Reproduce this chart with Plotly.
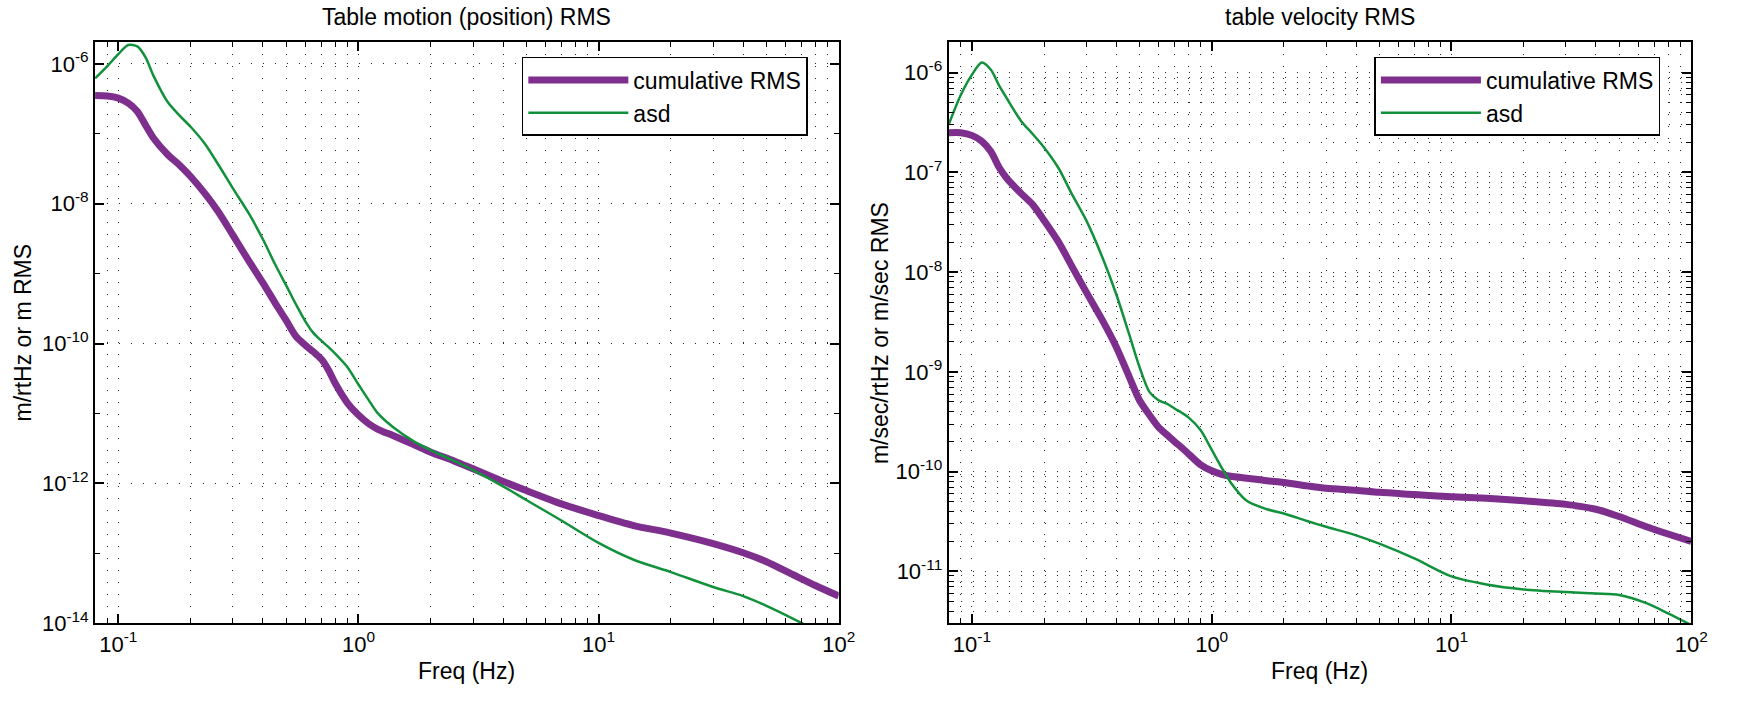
import plotly.graph_objects as go

# ---------------- data ----------------
freq = [0.08, 0.09, 0.1, 0.11, 0.12, 0.13, 0.14, 0.16, 0.18, 0.2, 0.23, 0.26, 0.3, 0.35,
        0.4, 0.45, 0.5, 0.55, 0.6, 0.65, 0.7, 0.75, 0.8, 0.9, 1.0, 1.1, 1.2, 1.4, 1.7, 2,
        2.5, 3, 4, 5, 7, 10, 14, 20, 30, 40, 50, 65, 80, 100]

pos_cum_rms = [3.52e-7, 3.47e-7, 3.24e-7, 2.75e-7, 2.09e-7, 1.32e-7, 8.7e-8, 5.1e-8, 3.55e-8,
               2.45e-8, 1.38e-8, 7.8e-9, 3.55e-9, 1.51e-9, 7.4e-10, 3.8e-10, 2.14e-10, 1.26e-10,
               9.5e-11, 7.6e-11, 6.0e-11, 4.2e-11, 2.7e-11, 1.41e-11, 9.5e-12, 7.2e-12, 6.0e-12,
               4.8e-12, 3.6e-12, 2.8e-12, 2.1e-12, 1.62e-12, 1.07e-12, 7.9e-13, 5.1e-13, 3.47e-13,
               2.5e-13, 1.95e-13, 1.38e-13, 1.02e-13, 7.6e-14, 4.9e-14, 3.47e-14, 2.45e-14]

pos_asd = [6.2e-7, 9.3e-7, 1.38e-6, 1.86e-6, 1.78e-6, 1.23e-6, 6.8e-7, 2.9e-7, 1.82e-7,
           1.26e-7, 7.1e-8, 3.7e-8, 1.66e-8, 7.2e-9, 3.1e-9, 1.35e-9, 6.8e-10, 3.6e-10,
           2.1e-10, 1.41e-10, 1.1e-10, 8.9e-11, 7.2e-11, 4.6e-11, 2.6e-11, 1.58e-11, 1.02e-11,
           6.3e-12, 4.0e-12, 3.0e-12, 2.1e-12, 1.55e-12, 9.1e-13, 5.8e-13, 2.95e-13, 1.41e-13,
           8.1e-14, 5.4e-14, 3.3e-14, 2.45e-14, 1.78e-14, 1.15e-14, 7.9e-15, 4.0e-15]

vel_cum_rms = [2.5e-7, 2.5e-7, 2.35e-7, 2.05e-7, 1.62e-7, 1.12e-7, 8.7e-8, 6.2e-8, 4.7e-8,
               3.3e-8, 2.0e-8, 1.17e-8, 6.3e-9, 3.3e-9, 1.78e-9, 9.3e-10, 5.2e-10, 3.7e-10,
               2.8e-10, 2.35e-10, 2.0e-10, 1.74e-10, 1.51e-10, 1.17e-10, 1.02e-10, 9.4e-11, 9.0e-11,
               8.6e-11, 8.1e-11, 7.8e-11, 7.2e-11, 6.8e-11, 6.5e-11, 6.2e-11, 5.9e-11, 5.6e-11,
               5.4e-11, 5.1e-11, 4.7e-11, 4.2e-11, 3.55e-11, 2.8e-11, 2.37e-11, 2.0e-11]

vel_asd = [3.0e-7, 6.0e-7, 9.5e-7, 1.26e-6, 1.07e-6, 7.4e-7, 5.5e-7, 3.3e-7, 2.4e-7,
           1.78e-7, 1.1e-7, 6.2e-8, 3.3e-8, 1.41e-8, 6.0e-9, 2.5e-9, 1.12e-9, 6.3e-10,
           5.2e-10, 4.8e-10, 4.3e-10, 3.9e-10, 3.5e-10, 2.6e-10, 1.66e-10, 1.1e-10, 7.8e-11,
           5.1e-11, 4.2e-11, 3.8e-11, 3.2e-11, 2.8e-11, 2.3e-11, 1.9e-11, 1.35e-11, 8.9e-12,
           7.4e-12, 6.6e-12, 6.2e-12, 6.0e-12, 5.8e-12, 4.8e-12, 3.8e-12, 2.9e-12]

series_names = ["cumulative RMS", "asd"]
titles = ["Table motion (position) RMS", "table velocity RMS"]
x_label = "Freq (Hz)"
y_labels = ["m/rtHz or m RMS", "m/sec/rtHz or m/sec RMS"]

x_tickvals = [0.1, 1, 10, 100]
x_ticktext = ["10<sup>-1</sup>", "10<sup>0</sup>", "10<sup>1</sup>", "10<sup>2</sup>"]
x_minor = [0.08, 0.09] + [m * d for d in (0.1, 1, 10) for m in range(2, 10)]

yl_tickvals = [1e-14, 1e-12, 1e-10, 1e-8, 1e-6]
yl_ticktext = ["10<sup>-14</sup>", "10<sup>-12</sup>", "10<sup>-10</sup>", "10<sup>-8</sup>", "10<sup>-6</sup>"]
yl_minor = [1e-13, 1e-11, 1e-9, 1e-7]

yr_tickvals = [1e-11, 1e-10, 1e-9, 1e-8, 1e-7, 1e-6]
yr_ticktext = ["10<sup>-11</sup>", "10<sup>-10</sup>", "10<sup>-9</sup>", "10<sup>-8</sup>",
               "10<sup>-7</sup>", "10<sup>-6</sup>"]
yr_minor = [m * d for d in (1e-12, 1e-11, 1e-10, 1e-9, 1e-8, 1e-7, 1e-6) for m in range(2, 10)]

# ---------------- styling ----------------
W, H = 1737, 704
PURPLE = "#7E2F8E"
GREEN = "#12913C"
FONT = "Liberation Sans, Arial, Helvetica, sans-serif"
DASH = "1px,11px"
TXT = 23

fig = go.Figure()
for xa, ya, leg, cum, asd in (("x", "y", "legend", pos_cum_rms, pos_asd),
                              ("x2", "y2", "legend2", vel_cum_rms, vel_asd)):
    fig.add_trace(go.Scatter(x=freq, y=cum, mode="lines", name=series_names[0],
                             line=dict(color=PURPLE, width=7, shape="spline", smoothing=0.8),
                             xaxis=xa, yaxis=ya, legend=leg))
    fig.add_trace(go.Scatter(x=freq, y=asd, mode="lines", name=series_names[1],
                             line=dict(color=GREEN, width=2.5, shape="spline", smoothing=0.8),
                             xaxis=xa, yaxis=ya, legend=leg))


def axis(domain, rng, tickvals, ticktext, minor_vals, minor_grid, anchor):
    return dict(
        type="log", domain=domain, range=rng, anchor=anchor,
        showline=True, linecolor="black", linewidth=2, mirror="ticks",
        ticks="inside", ticklen=9, tickwidth=1.5, tickcolor="black",
        tickmode="array", tickvals=tickvals, ticktext=ticktext,
        tickfont=dict(family=FONT, size=22, color="black"),
        showgrid=True, gridcolor="rgba(0,0,0,0.85)", gridwidth=1, griddash=DASH,
        zeroline=False,
        minor=dict(tickmode="array", tickvals=minor_vals, ticks="inside", ticklen=5,
                   tickwidth=1.2, tickcolor="black", showgrid=minor_grid,
                   gridcolor="rgba(0,0,0,0.85)", gridwidth=1, griddash=DASH),
    )


xd1 = [96 / W, 847 / W]
xd2 = [958 / W, 1708 / W]
yd = [1 - 635 / H, 1 - 43 / H]
xr = [-1.0969, 2.0]

legend_style = dict(xanchor="left", yanchor="top", bgcolor="white", bordercolor="black",
                    borderwidth=1.5, font=dict(family=FONT, size=TXT, color="black"),
                    itemwidth=100, tracegroupgap=0)

fig.update_layout(
    width=W, height=H, autosize=False,
    margin=dict(l=0, r=0, t=0, b=0),
    paper_bgcolor="white", plot_bgcolor="white",
    font=dict(family=FONT, size=TXT, color="black"),
    showlegend=True,
    xaxis=axis(xd1, xr, x_tickvals, x_ticktext, x_minor, True, "y"),
    yaxis=axis(yd, [-14, -5.69], yl_tickvals, yl_ticktext, yl_minor, False, "x"),
    xaxis2=axis(xd2, xr, x_tickvals, x_ticktext, x_minor, True, "y2"),
    yaxis2=axis(yd, [-11.52, -5.695], yr_tickvals, yr_ticktext, yr_minor, True, "x2"),
    legend=dict(x=527 / W, y=1 - 58 / H, **legend_style),
    legend2=dict(x=1388 / W, y=1 - 58 / H, **legend_style),
)

ann = []
cx1 = (xd1[0] + xd1[1]) / 2
cx2 = (xd2[0] + xd2[1]) / 2
cy = (yd[0] + yd[1]) / 2
for cx, t in ((cx1, titles[0]), (cx2, titles[1])):
    ann.append(dict(text=t, x=cx, y=1 - 17 / H, xref="paper", yref="paper",
                    xanchor="center", yanchor="middle", showarrow=False,
                    font=dict(family=FONT, size=TXT, color="black")))
    ann.append(dict(text=x_label, x=cx, y=1 - 684 / H, xref="paper", yref="paper",
                    xanchor="center", yanchor="middle", showarrow=False,
                    font=dict(family=FONT, size=TXT, color="black")))
for px, t in ((23, y_labels[0]), (888, y_labels[1])):
    ann.append(dict(text=t, x=px / W, y=cy, xref="paper", yref="paper", textangle=-90,
                    xanchor="center", yanchor="middle", showarrow=False,
                    font=dict(family=FONT, size=TXT, color="black")))
fig.update_layout(annotations=ann)

fig.write_html("out.html")
